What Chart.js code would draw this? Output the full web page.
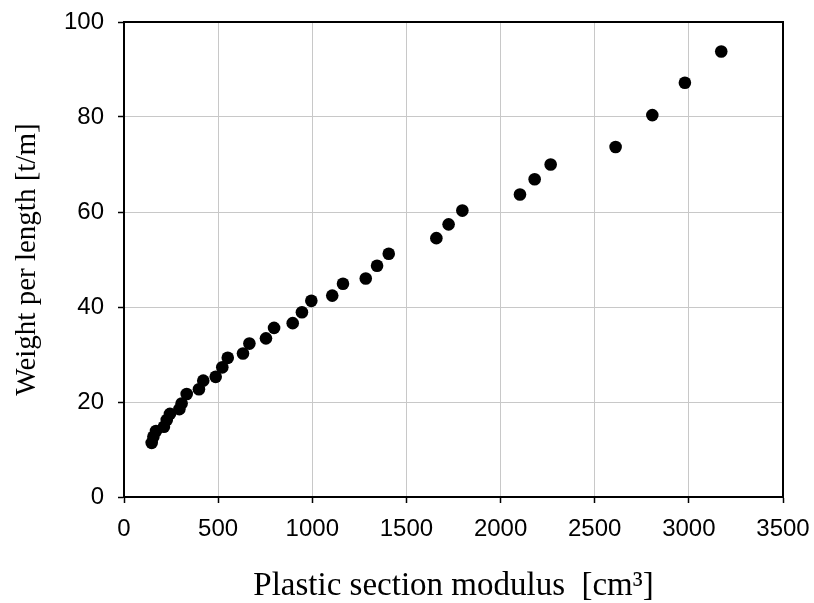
<!DOCTYPE html>
<html>
<head>
<meta charset="utf-8">
<script src="https://cdn.jsdelivr.net/npm/chart.js@4/dist/chart.umd.min.js"></script>
<style>
html,body{margin:0;padding:0;background:#fff;}
#wrap{width:814px;height:603px;position:relative;}
</style>
</head>
<body>
<div id="wrap"><canvas id="c" width="814" height="603"></canvas></div>
<script>
const modulusValues = [147,156,170,212,227,244,294,306,333,398,421,487,522,551,632,666,754,797,896,945,995,1106,1163,1284,1344,1406,1659,1724,1797,2103,2181,2266,2611,2806,2979,3172];
const weightValues  = [11.4,12.7,13.9,14.8,16.2,17.5,18.5,19.7,21.7,22.7,24.5,25.3,27.3,29.3,30.2,32.3,33.4,35.6,36.6,38.9,41.3,42.4,44.9,46.0,48.7,51.2,54.5,57.4,60.3,63.7,66.9,70.0,73.7,80.4,87.2,93.8];
const xTicks = [0,500,1000,1500,2000,2500,3000,3500];
const yTicks = [0,20,40,60,80,100];
const xTitle = 'Plastic section modulus  [cm\u00B3]';
const yTitle = 'Weight per length [t/m]';

const points = modulusValues.map((x,i)=>({x:x,y:weightValues[i]}));

const frame = {
  id:'frame',
  afterDatasetsDraw(chart){
    const a = chart.chartArea, ctx = chart.ctx;
    ctx.save();
    ctx.strokeStyle = '#000';
    ctx.lineWidth = 2;
    ctx.strokeRect(a.left, a.top, a.right-a.left, a.bottom-a.top);
    ctx.restore();
  }
};

new Chart(document.getElementById('c'), {
  type:'scatter',
  data:{datasets:[{data:points,backgroundColor:'#000',borderColor:'#000',pointRadius:6.3,pointHoverRadius:6.3,borderWidth:0}]},
  options:{
    responsive:false,animation:false,
    layout:{padding:{left:0,right:31,top:22,bottom:0}},
    plugins:{legend:{display:false},tooltip:{enabled:false}},
    scales:{
      x:{
        type:'linear',min:0,max:3500,
        afterBuildTicks(ax){ax.ticks = xTicks.map(v=>({value:v}));},
        afterFit(ax){ax.height = 106; ax.paddingLeft = 0; ax.paddingRight = 0;},
        grid:{color:'#c8c8c8',lineWidth:1,tickColor:'#000',tickLength:6,tickWidth:1.5},
        border:{color:'#000',width:2},
        ticks:{color:'#000',font:{family:'Liberation Sans, Arial',size:24},padding:12,maxRotation:0,autoSkip:false,callback:v=>String(v)},
        title:{display:true,text:xTitle,color:'#000',font:{family:'Liberation Serif, Times New Roman',size:33,lineHeight:1},padding:{top:0,bottom:0}}
      },
      y:{
        type:'linear',min:0,max:100,
        afterBuildTicks(ax){ax.ticks = yTicks.map(v=>({value:v}));},
        afterFit(ax){ax.width = 124; ax.paddingTop = 0; ax.paddingBottom = 0;},
        grid:{color:'#c8c8c8',lineWidth:1,tickColor:'#000',tickLength:6,tickWidth:1.5},
        border:{color:'#000',width:2},
        ticks:{color:'#000',font:{family:'Liberation Sans, Arial',size:24},padding:14,autoSkip:false,callback:v=>String(v)},
        title:{display:true,text:yTitle,color:'#000',font:{family:'Liberation Serif, Times New Roman',size:29},padding:{top:10,bottom:0}}
      }
    }
  },
  plugins:[frame]
});
</script>
</body>
</html>
